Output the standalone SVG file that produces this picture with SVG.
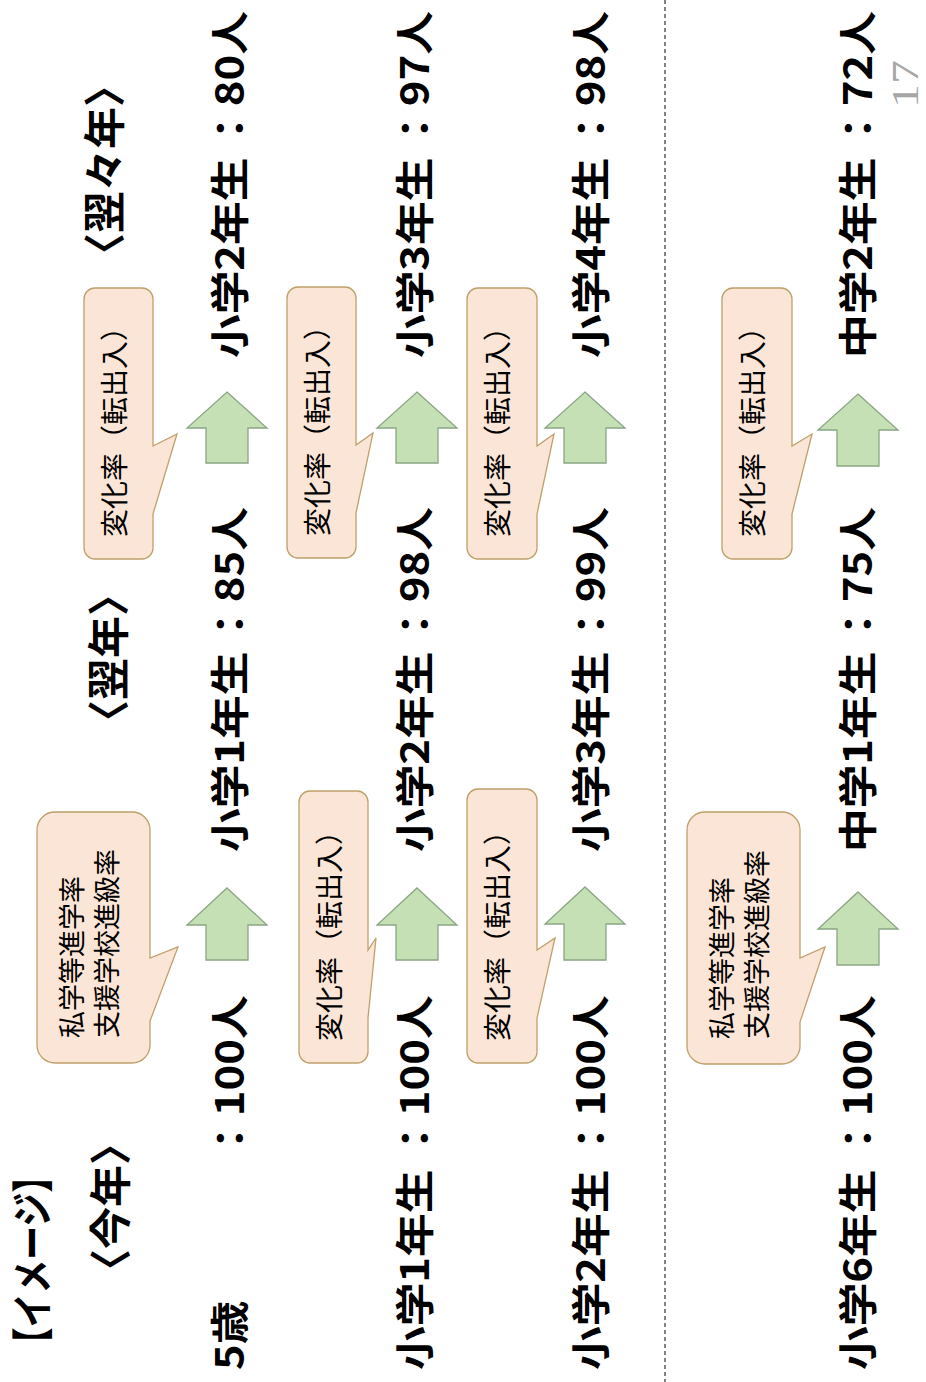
<svg xmlns="http://www.w3.org/2000/svg" width="926" height="1382" viewBox="0 0 926 1382">
<style>
.lbl{font-family:"Noto Sans CJK JP","Noto Sans CJK SC",sans-serif;font-weight:700;font-size:39px;fill:#000}
.hdr{font-family:"Noto Sans CJK JP","Noto Sans CJK SC",sans-serif;font-weight:700;font-size:42px;fill:#000}
.co{font-family:"Noto Sans CJK JP","Noto Sans CJK SC",sans-serif;font-weight:400;font-size:28px;fill:#000}
.co2{font-family:"Noto Sans CJK JP","Noto Sans CJK SC",sans-serif;font-weight:400;font-size:27px;fill:#000}
.pg{font-family:"Liberation Serif",serif;font-size:38px;fill:#a6a6a6}
.callout{fill:#FBE5D6;stroke:#BFA06A;stroke-width:1.3}
.arrow{fill:#C5E0B4;stroke:#8AA585;stroke-width:1.3}
.sep{stroke:#333;stroke-width:1.2;stroke-dasharray:4 3;fill:none}
</style>
<rect width="926" height="1382" fill="#fff"/>

<g id="connectors">
  <line class="sep" x1="665" y1="0" x2="665" y2="1382"/>
  <polygon class="arrow" points="227,888 267,925 248,925 248,960 206,960 206,925 187,925"/>
  <polygon class="arrow" points="227,392 267,428 248,428 248,463 206,463 206,428 187,428"/>
  <polygon class="arrow" points="417,888 457,925 438,925 438,960 396,960 396,925 377,925"/>
  <polygon class="arrow" points="417,392 457,428 438,428 438,463 396,463 396,428 377,428"/>
  <polygon class="arrow" points="585,887 625,924 606,924 606,960 564,960 564,924 545,924"/>
  <polygon class="arrow" points="585,392 625,428 606,428 606,463 564,463 564,428 545,428"/>
  <polygon class="arrow" points="858,892 898,929 879,929 879,965 837,965 837,929 818,929"/>
  <polygon class="arrow" points="858,394 898,430 879,430 879,466 837,466 837,430 818,430"/>
</g>

<g id="title">
  <text class="hdr" transform="translate(48,1260) rotate(-90)" text-anchor="middle" textLength="202" lengthAdjust="spacingAndGlyphs">【イメージ】</text>
</g>
<g id="header-this-year">
  <text class="hdr" transform="translate(126,1207) rotate(-90)" text-anchor="middle">〈今年〉</text>
</g>
<g id="header-next-year">
  <text class="hdr" transform="translate(124,658) rotate(-90)" text-anchor="middle">〈翌年〉</text>
</g>
<g id="header-year-after">
  <text class="hdr" transform="translate(120,170) rotate(-90)" text-anchor="middle">〈翌々年〉</text>
</g>

<g id="r1c1">
  <text class="lbl" transform="translate(244,1370) rotate(-90) scale(1.12,1)">5歳</text>
  <text class="lbl" transform="translate(244,1160) rotate(-90) scale(1.12,1)">：100人</text>
</g>
<g id="r1c2">
  <text class="lbl" transform="translate(244,852) rotate(-90) scale(1.12,1)">小学1年生</text>
  <text class="lbl" transform="translate(244,646) rotate(-90) scale(1.12,1)">：85人</text>
</g>
<g id="r1c3">
  <text class="lbl" transform="translate(244,358) rotate(-90) scale(1.12,1)">小学2年生</text>
  <text class="lbl" transform="translate(244,150) rotate(-90) scale(1.12,1)">：80人</text>
</g>

<g id="r2c1">
  <text class="lbl" transform="translate(429,1370) rotate(-90) scale(1.12,1)">小学1年生</text>
  <text class="lbl" transform="translate(429,1160) rotate(-90) scale(1.12,1)">：100人</text>
</g>
<g id="r2c2">
  <text class="lbl" transform="translate(429,852) rotate(-90) scale(1.12,1)">小学2年生</text>
  <text class="lbl" transform="translate(429,646) rotate(-90) scale(1.12,1)">：98人</text>
</g>
<g id="r2c3">
  <text class="lbl" transform="translate(429,358) rotate(-90) scale(1.12,1)">小学3年生</text>
  <text class="lbl" transform="translate(429,150) rotate(-90) scale(1.12,1)">：97人</text>
</g>

<g id="r3c1">
  <text class="lbl" transform="translate(605,1370) rotate(-90) scale(1.12,1)">小学2年生</text>
  <text class="lbl" transform="translate(605,1160) rotate(-90) scale(1.12,1)">：100人</text>
</g>
<g id="r3c2">
  <text class="lbl" transform="translate(605,852) rotate(-90) scale(1.12,1)">小学3年生</text>
  <text class="lbl" transform="translate(605,646) rotate(-90) scale(1.12,1)">：99人</text>
</g>
<g id="r3c3">
  <text class="lbl" transform="translate(605,358) rotate(-90) scale(1.12,1)">小学4年生</text>
  <text class="lbl" transform="translate(605,150) rotate(-90) scale(1.12,1)">：98人</text>
</g>

<g id="r4c1">
  <text class="lbl" transform="translate(872,1370) rotate(-90) scale(1.12,1)">小学6年生</text>
  <text class="lbl" transform="translate(872,1160) rotate(-90) scale(1.12,1)">：100人</text>
</g>
<g id="r4c2">
  <text class="lbl" transform="translate(872,852) rotate(-90) scale(1.12,1)">中学1年生</text>
  <text class="lbl" transform="translate(872,646) rotate(-90) scale(1.12,1)">：75人</text>
</g>
<g id="r4c3">
  <text class="lbl" transform="translate(872,358) rotate(-90) scale(1.12,1)">中学2年生</text>
  <text class="lbl" transform="translate(872,150) rotate(-90) scale(1.12,1)">：72人</text>
</g>

<g id="callout-r1c1">
  <path class="callout" d="M55,812 H132 A18,18 0 0 1 150,830 V958 L178,947 L150,1021 V1045 A18,18 0 0 1 132,1063 H55 A18,18 0 0 1 37,1045 V830 A18,18 0 0 1 55,812 Z"/>
  <text class="co2" transform="translate(82,1038) rotate(-90)">私学等進学率</text>
  <text class="co2" transform="translate(117,1038) rotate(-90)">支援学校進級率</text>
</g>
<g id="callout-r1c2">
  <path class="callout" d="M95,288 H142 A11,11 0 0 1 153,299 V446 L177,434 L153,514 V548 A11,11 0 0 1 142,559 H95 A11,11 0 0 1 84,548 V299 A11,11 0 0 1 95,288 Z"/>
  <text class="co" transform="translate(125,537) rotate(-90)">変化率（転出入）</text>
</g>
<g id="callout-r2c1">
  <path class="callout" d="M310,791 H357 A11,11 0 0 1 368,802 V950 L376,938 L368,1018 V1052 A11,11 0 0 1 357,1063 H310 A11,11 0 0 1 299,1052 V802 A11,11 0 0 1 310,791 Z"/>
  <text class="co" transform="translate(340,1041) rotate(-90)">変化率（転出入）</text>
</g>
<g id="callout-r2c2">
  <path class="callout" d="M298,287 H345 A11,11 0 0 1 356,298 V445 L373,433 L356,513 V547 A11,11 0 0 1 345,558 H298 A11,11 0 0 1 287,547 V298 A11,11 0 0 1 298,287 Z"/>
  <text class="co" transform="translate(328,536) rotate(-90)">変化率（転出入）</text>
</g>
<g id="callout-r3c1">
  <path class="callout" d="M478,789 H526 A11,11 0 0 1 537,800 V950 L555,938 L537,1018 V1052 A11,11 0 0 1 526,1063 H478 A11,11 0 0 1 467,1052 V800 A11,11 0 0 1 478,789 Z"/>
  <text class="co" transform="translate(508,1041) rotate(-90)">変化率（転出入）</text>
</g>
<g id="callout-r3c2">
  <path class="callout" d="M478,288 H526 A11,11 0 0 1 537,299 V446 L554,434 L537,514 V548 A11,11 0 0 1 526,559 H478 A11,11 0 0 1 467,548 V299 A11,11 0 0 1 478,288 Z"/>
  <text class="co" transform="translate(508,537) rotate(-90)">変化率（転出入）</text>
</g>
<g id="callout-r4c1">
  <path class="callout" d="M705,812 H782 A18,18 0 0 1 800,830 V958 L825,947 L800,1022 V1046 A18,18 0 0 1 782,1064 H705 A18,18 0 0 1 687,1046 V830 A18,18 0 0 1 705,812 Z"/>
  <text class="co2" transform="translate(732,1039) rotate(-90)">私学等進学率</text>
  <text class="co2" transform="translate(767,1039) rotate(-90)">支援学校進級率</text>
</g>
<g id="callout-r4c2">
  <path class="callout" d="M733,288 H781 A11,11 0 0 1 792,299 V446 L812,434 L792,514 V548 A11,11 0 0 1 781,559 H733 A11,11 0 0 1 722,548 V299 A11,11 0 0 1 733,288 Z"/>
  <text class="co" transform="translate(763,537) rotate(-90)">変化率（転出入）</text>
</g>

<g id="page-number">
  <text class="pg" transform="translate(918,108) rotate(-90)" textLength="48" lengthAdjust="spacingAndGlyphs">17</text>
</g>
</svg>
